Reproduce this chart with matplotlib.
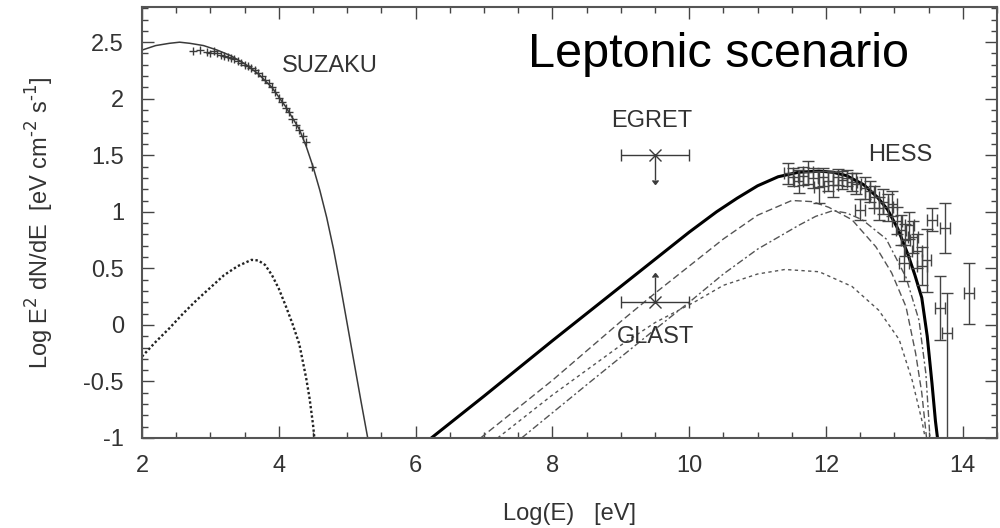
import matplotlib

matplotlib.use("Agg")
import matplotlib.pyplot as plt
from matplotlib.ticker import FormatStrFormatter, MultipleLocator

plt.rcParams["font.family"] = ["Liberation Sans", "DejaVu Sans"]
plt.rcParams["axes.unicode_minus"] = False

GREY = "#3a3a3a"

# synchrotron model (thin solid) and the secondary dotted component, log10 E [eV]
sync_x = [2.0, 2.2, 2.4, 2.55, 2.7, 2.9, 3.1, 3.3, 3.5, 3.7, 3.9, 4.1, 4.3,
          4.4, 4.5, 4.6, 4.7, 4.8, 4.9, 5.0, 5.1, 5.2, 5.3]
sync_y = [2.43, 2.47, 2.49, 2.50, 2.49, 2.47, 2.43, 2.38, 2.31, 2.22, 2.10,
          1.93, 1.73, 1.58, 1.40, 1.19, 0.95, 0.67, 0.35, 0.01, -0.33,
          -0.67, -1.0]

dot_x = [2.0, 2.2, 2.4, 2.6, 2.8, 3.0, 3.2, 3.4, 3.6, 3.7, 3.8, 3.9, 4.0,
         4.1, 4.2, 4.3, 4.4, 4.45, 4.5, 4.52]
dot_y = [-0.28, -0.15, -0.03, 0.10, 0.22, 0.33, 0.44, 0.52, 0.575, 0.57,
         0.53, 0.44, 0.32, 0.17, 0.01, -0.17, -0.47, -0.65, -0.88, -1.0]

# inverse Compton: total (thick) and three components
ic_x = [6.23, 7.0, 8.0, 9.0, 10.0, 10.4, 10.7, 11.0, 11.3, 11.6, 11.9, 12.1,
        12.3, 12.55, 12.75, 12.9, 13.05, 13.2, 13.3, 13.4, 13.48, 13.55,
        13.6, 13.63]
ic_y = [-1.0, -0.63, -0.14, 0.34, 0.82, 1.0, 1.12, 1.23, 1.31, 1.35, 1.36,
        1.35, 1.32, 1.24, 1.13, 1.02, 0.85, 0.62, 0.44, 0.24, -0.1, -0.52,
        -0.85, -1.0]

cmb_x = [6.95, 8.0, 9.0, 9.5, 10.0, 10.5, 11.0, 11.5, 11.8, 12.04, 12.38,
         12.73, 12.96, 13.17, 13.31, 13.4, 13.47]
cmb_y = [-1.0, -0.49, 0.03, 0.28, 0.52, 0.76, 0.97, 1.10, 1.09, 1.04, 0.93,
         0.69, 0.46, 0.16, -0.25, -0.60, -1.0]

ir_x = [7.2, 8.0, 9.0, 9.5, 10.1, 10.5, 11.0, 11.4, 11.9, 12.38, 12.77,
        13.07, 13.26, 13.4, 13.45]
ir_y = [-1.0, -0.62, -0.18, 0.02, 0.21, 0.35, 0.45, 0.49, 0.47, 0.34, 0.13,
        -0.13, -0.49, -0.84, -1.0]

opt_x = [7.55, 8.5, 9.5, 10.04, 10.5, 11.0, 11.6, 11.85, 12.1, 12.3, 12.53,
         12.88, 13.17, 13.36, 13.46, 13.52]
opt_y = [-1.0, -0.53, -0.04, 0.22, 0.45, 0.67, 0.88, 0.96, 1.01, 0.99,
         0.93, 0.76, 0.42, 0.04, -0.43, -1.0]

# SUZAKU X-ray points
suz_x = [2.74, 2.85, 2.95, 3.0, 3.05, 3.1, 3.15, 3.2, 3.25, 3.3, 3.35, 3.4,
         3.45, 3.5, 3.55, 3.6, 3.65, 3.7, 3.75, 3.8, 3.85, 3.9, 3.95, 4.0,
         4.05, 4.1, 4.15, 4.2, 4.25, 4.3, 4.35, 4.4, 4.49]
suz_y = [2.42, 2.43, 2.41, 2.40, 2.42, 2.40, 2.39, 2.38, 2.37, 2.36, 2.35,
         2.33, 2.32, 2.30, 2.29, 2.27, 2.25, 2.23, 2.20, 2.17, 2.14, 2.10,
         2.06, 2.01, 1.97, 1.92, 1.88, 1.82, 1.77, 1.72, 1.67, 1.62, 1.40]

# HESS TeV points (asymmetric y errors)
hess_x = [11.45, 11.52, 11.60, 11.67, 11.74, 11.81, 11.90, 11.96, 12.03,
          12.10, 12.17, 12.24, 12.31, 12.38, 12.44, 12.50, 12.57, 12.64,
          12.70, 12.77, 12.84, 12.91, 12.97, 13.04, 13.10, 13.16, 13.22,
          13.27, 13.14, 13.33, 13.40, 13.47, 13.55, 13.74, 13.67, 13.77,
          14.09]
hess_y = [1.34, 1.31, 1.27, 1.32, 1.35, 1.30, 1.22, 1.31, 1.27, 1.24, 1.31,
          1.28, 1.30, 1.26, 1.25, 1.02, 1.21, 1.18, 1.13, 1.03, 1.09, 1.04,
          1.07, 0.92, 0.84, 0.75, 0.88, 0.78, 0.55, 0.65, 0.52, 0.57, 0.93,
          0.86, 0.15, -0.07, 0.28]
hess_lo = [0.09, 0.08, 0.10, 0.08, 0.10, 0.09, 0.14, 0.08, 0.09, 0.11, 0.07,
           0.08, 0.07, 0.08, 0.09, 0.09, 0.10, 0.09, 0.10, 0.10, 0.11, 0.12,
           0.11, 0.12, 0.13, 0.14, 0.12, 0.14, 0.16, 0.15, 0.17, 0.28, 0.10,
           0.22, 0.28, 1.10, 0.27]
hess_hi = [0.09, 0.08, 0.10, 0.08, 0.10, 0.09, 0.14, 0.08, 0.09, 0.11, 0.07,
           0.08, 0.07, 0.08, 0.09, 0.09, 0.10, 0.09, 0.10, 0.10, 0.11, 0.12,
           0.11, 0.12, 0.13, 0.14, 0.12, 0.14, 0.16, 0.15, 0.17, 0.28, 0.10,
           0.22, 0.28, 0.35, 0.27]

# GeV limits: EGRET upper limit, GLAST sensitivity
egret = (9.5, 1.5)
glast = (9.5, 0.2)
gev_halfwidth = 0.5
limit_len = 0.22

fig = plt.figure(figsize=(10, 5.28), dpi=100)
ax = fig.add_axes([0.142, 0.1705, 0.855, 0.816])

ax.plot(sync_x, sync_y, color=GREY, lw=1.1)
ax.plot(dot_x, dot_y, color="#222222", lw=1.7, ls=(0, (1, 1)))
ax.plot(ic_x, ic_y, color="black", lw=2.2)
ax.plot(cmb_x, cmb_y, color="#555555", lw=1.0, ls=(0, (5, 2.5)))
ax.plot(ir_x, ir_y, color="#555555", lw=1.0, ls=(0, (2.4, 2.4)))
ax.plot(opt_x, opt_y, color="#555555", lw=1.0, ls=(0, (5, 2, 1.5, 2)))

ax.errorbar(suz_x, suz_y, xerr=0.06, yerr=0.035, fmt="none",
            ecolor=GREY, elinewidth=1.0, capsize=0)
ax.errorbar(hess_x, hess_y, xerr=0.07, yerr=[hess_lo, hess_hi], fmt="none",
            ecolor="#444444", elinewidth=1.0, capsize=4, capthick=1.0)

# horizontal band with caps, then the limit arrow with a small head
for (gx, gy), up in ((egret, False), (glast, True)):
    ax.errorbar([gx], [gy], xerr=gev_halfwidth, fmt="x", ms=8, mew=1.0,
                color=GREY, elinewidth=1.0, capsize=4)
    ax.errorbar([gx], [gy], yerr=limit_len, uplims=not up, lolims=up,
                fmt="none", color=GREY, ecolor=GREY, elinewidth=1.0,
                capsize=2)

lab = dict(fontsize=17, color="#333333")
ax.text(4.04, 2.29, "SUZAKU", va="center", ha="left", **lab)
ax.text(9.45, 1.80, "EGRET", va="center", ha="center", **lab)
ax.text(9.5, -0.11, "GLAST", va="center", ha="center", **lab)
ax.text(13.08, 1.50, "HESS", va="center", ha="center", **lab)
ax.text(7.64, 2.28, "Leptonic scenario", fontsize=35, color="black",
        ha="left", va="baseline")

ax.set_xlim(2, 14.5)
ax.set_ylim(-1, 2.81)
ax.xaxis.set_major_locator(MultipleLocator(2))
ax.xaxis.set_minor_locator(MultipleLocator(0.5))
ax.yaxis.set_major_locator(MultipleLocator(0.5))
ax.yaxis.set_minor_locator(MultipleLocator(0.1))
ax.xaxis.set_major_formatter(FormatStrFormatter("%g"))
ax.yaxis.set_major_formatter(FormatStrFormatter("%g"))

ax.tick_params(which="both", direction="in", top=True, right=True,
               colors="#444444", labelcolor="#333333", width=1.0)
ax.tick_params(which="major", length=8.5, labelsize=17)
ax.tick_params(which="minor", length=4)
ax.tick_params(axis="x", which="major", pad=12)
ax.tick_params(axis="y", which="major", pad=13)
for s in ax.spines.values():
    s.set_color("#555555")
    s.set_linewidth(1.5)

ax.set_xlabel("Log(E)   [eV]", fontsize=17, color="#333333", labelpad=19)
ax.set_ylabel(r"Log E$^2$ dN/dE  [eV cm$^{\text{-}2}$ s$^{\text{-}1}$]",
              fontsize=17, color="#333333", labelpad=20)

fig.savefig("out.png", dpi=100)
